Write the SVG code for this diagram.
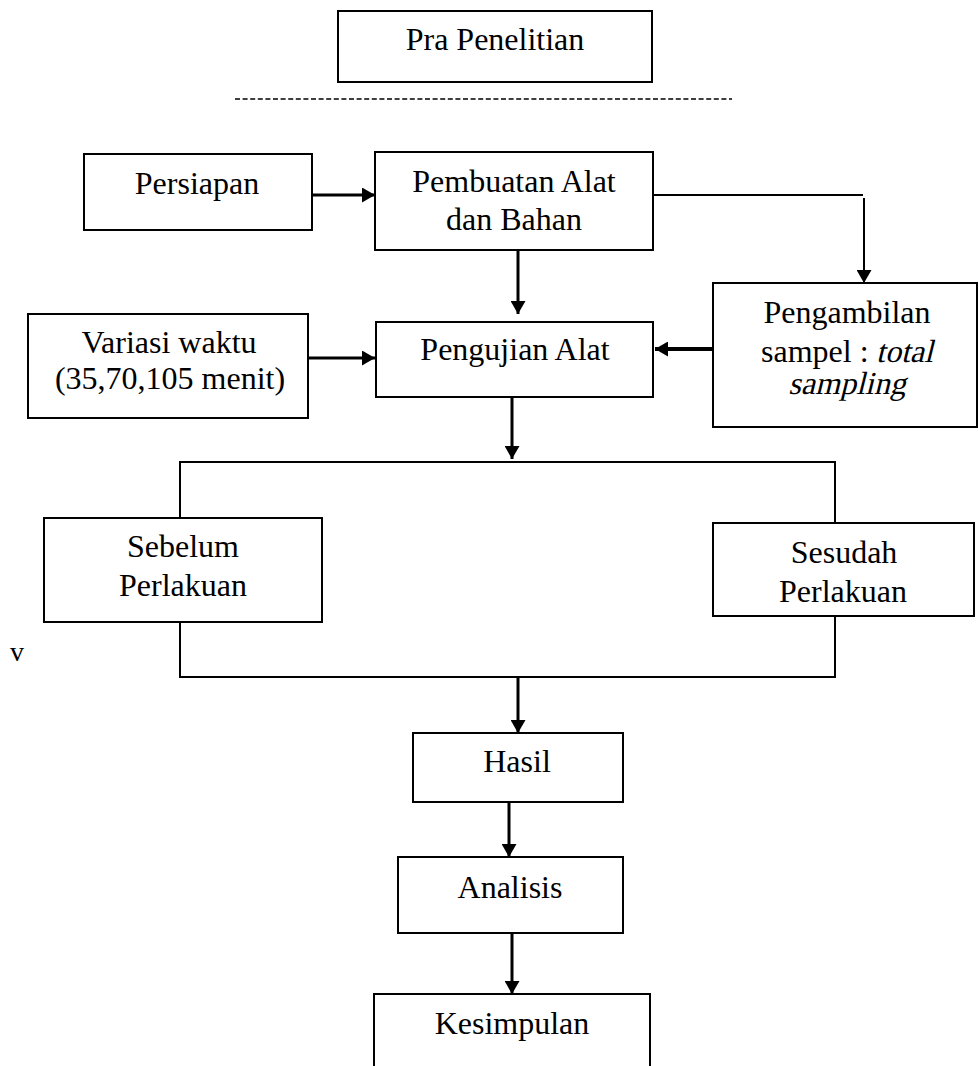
<svg xmlns="http://www.w3.org/2000/svg" width="979" height="1066" viewBox="0 0 979 1066">
<style>
  .box { fill: #ffffff; stroke: #000000; stroke-width: 2; }
  .t { font-family: "Liberation Serif", "Times New Roman", serif; font-size: 32px; fill: #000000; text-anchor: middle; }
  .ts { text-anchor: start; }
  .c { fill: none; stroke: #000000; stroke-width: 3; }
  .thin { fill: none; stroke: #000000; stroke-width: 2; }
  .dash { fill: none; stroke: #000000; stroke-width: 1.5; stroke-dasharray: 5 2.6; }
</style>
<defs>
  <marker id="arr" viewBox="0 0 13 15" refX="13" refY="7.5" markerWidth="13" markerHeight="15" markerUnits="userSpaceOnUse" orient="auto">
    <path d="M0,0 L13,7.5 L0,15 Z" fill="#000000"/>
  </marker>
</defs>
<rect width="979" height="1066" fill="#ffffff"/>

<g id="connectors">
  <path class="dash" d="M235,99 H732"/>
  <path class="c" d="M312,195 H375" marker-end="url(#arr)"/>
  <path class="c" d="M518,250 V314" marker-end="url(#arr)"/>
  <path class="thin" d="M653,195 H863"/>
  <path class="thin" d="M864,198 V283" marker-end="url(#arr)"/>
  <path class="c" d="M308,358 H375" marker-end="url(#arr)"/>
  <path class="c" style="stroke-width:4" d="M713,349 H655" marker-end="url(#arr)"/>
  <path class="c" d="M512,397 V459" marker-end="url(#arr)"/>
  <path class="thin" d="M180,518 V462 H835 V523"/>
  <path class="thin" d="M180,622 V677 H835 V616"/>
  <path class="c" d="M518,677 V733" marker-end="url(#arr)"/>
  <path class="c" d="M509,802 V857" marker-end="url(#arr)"/>
  <path class="c" d="M512,933 V994" marker-end="url(#arr)"/>
</g>

<g id="pra-penelitian">
  <rect class="box" x="338" y="11" width="314" height="71"/>
  <text class="t" x="495" y="50">Pra Penelitian</text>
</g>

<g id="persiapan">
  <rect class="box" x="84" y="154" width="228" height="76"/>
  <text class="t" x="197" y="194">Persiapan</text>
</g>

<g id="pembuatan">
  <rect class="box" x="375" y="152" width="278" height="98"/>
  <text class="t" x="514" y="192">Pembuatan Alat</text>
  <text class="t" x="514" y="230">dan Bahan</text>
</g>

<g id="pengambilan">
  <rect class="box" x="713" y="283" width="264" height="144"/>
  <text class="t" x="847" y="323">Pengambilan</text>
  <text class="t ts" x="761" y="362">sampel : </text>
  <text class="t ts" transform="translate(876,362) skewX(-14)" x="0" y="0">total</text>
  <text class="t" transform="translate(847,394) skewX(-14)" x="0" y="0">sampling</text>
</g>

<g id="variasi">
  <rect class="box" x="28" y="314" width="280" height="104"/>
  <text class="t" x="169" y="353">Variasi waktu</text>
  <text class="t" x="170" y="389">(35,70,105 menit)</text>
</g>

<g id="pengujian">
  <rect class="box" x="376" y="322" width="277" height="75"/>
  <text class="t" x="515" y="360">Pengujian Alat</text>
</g>

<g id="sebelum">
  <rect class="box" x="44" y="518" width="278" height="104"/>
  <text class="t" x="183" y="557">Sebelum</text>
  <text class="t" x="183" y="596">Perlakuan</text>
</g>

<g id="sesudah">
  <rect class="box" x="713" y="523" width="261" height="93"/>
  <text class="t" x="844" y="563">Sesudah</text>
  <text class="t" x="843" y="602">Perlakuan</text>
</g>

<g id="v-label">
  <text class="t" x="17" y="661" style="font-size:28px">v</text>
</g>

<g id="hasil">
  <rect class="box" x="413" y="733" width="210" height="69"/>
  <text class="t" x="517" y="772">Hasil</text>
</g>

<g id="analisis">
  <rect class="box" x="398" y="857" width="225" height="76"/>
  <text class="t" x="510" y="898">Analisis</text>
</g>

<g id="kesimpulan">
  <path class="box" d="M374,1070 V994 H650 V1070"/>
  <text class="t" x="512" y="1034">Kesimpulan</text>
</g>
</svg>
